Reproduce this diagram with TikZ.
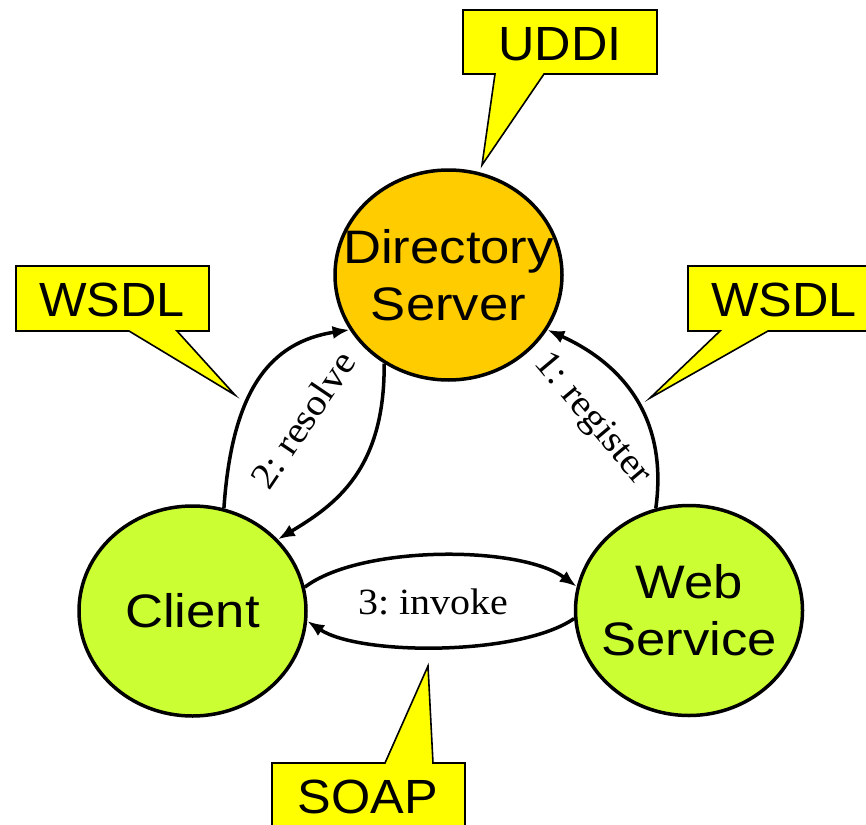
\documentclass[tikz,border=0pt]{standalone}
\usepackage{fontspec}
\newfontfamily\circfont[FakeStretch=1.12]{Liberation Sans}
\newfontfamily\callfont[FakeStretch=1.05]{Liberation Sans}
\newfontfamily\lblfont[FakeStretch=1.08]{Liberation Serif}
\usetikzlibrary{shapes.geometric,arrows.meta}
\definecolor{dirfill}{HTML}{FFCC00}
\definecolor{greenfill}{HTML}{CCFF33}
\definecolor{callfill}{HTML}{FFFF00}
\tikzset{
  circnode/.style={ellipse, draw=black, line width=3.5pt, minimum width=227pt, minimum height=210pt, inner sep=0pt},
  circtext/.style={align=center, inner sep=0pt, font=\circfont\fontsize{47}{57}\selectfont},
  callshape/.style={fill=callfill, draw=black, line width=1.6pt, line join=miter},
  calltext/.style={font=\callfont\fontsize{48}{56}\selectfont, inner sep=0pt},
  conn/.style={line width=3.5pt, -{Latex[length=17pt,width=13pt]}},
  lbl/.style={font=\lblfont\fontsize{37}{40}\selectfont, inner sep=0pt}
}
\begin{document}
\frenchspacing
\begin{tikzpicture}[x=1pt,y=-1pt]
\useasboundingbox (0,0) rectangle (866,824);
\clip (0,0) rectangle (866,824);
\fill[white] (0,0) rectangle (866,824);

% callouts
\draw[callshape] (463,10) -- (657,10) -- (657,74) -- (544,74) -- (482,165) -- (495,74) -- (463,74) -- cycle;
\node[calltext] (uddi) at (560,44) {UDDI};
\draw[callshape] (16,266) -- (209,266) -- (209,331) -- (177,331) -- (235,395) -- (129,331) -- (16,331) -- cycle;
\node[calltext] (wsdlL) at (112,300) {WSDL};
\draw[callshape] (688,266) -- (881,266) -- (881,331) -- (768,331) -- (650,398) -- (720,331) -- (688,331) -- cycle;
\node[calltext] (wsdlR) at (784,300) {WSDL};
\draw[callshape] (272,763) -- (385,763) -- (428,666) -- (433,763) -- (465,763) -- (465,830) -- (272,830) -- cycle;
\node[calltext] (soap) at (368,797) {SOAP};

% circles
\node[circnode, fill=dirfill] (dir) at (448.5,275) {};
\node[circtext] (dirtext) at (dir) {Directory\\Server};
\node[circnode, fill=greenfill] (client) at (192.5,611) {};
\node[circtext] (clienttext) at (client) {Client};
\node[circnode, fill=greenfill] (ws) at (689,610.5) {};
\node[circtext] (wstext) at (ws) {Web\\Service};

% connectors
\draw[conn] (client.73.5) .. controls (232,390) and (270,342) .. (dir.209.2);
\draw[conn] (dir.234.2) .. controls (385,470) and (335,505) .. (client.40.8);
\draw[conn] (ws.108.2) .. controls (668,420) and (625,365) .. (dir.-29.8);
\draw[conn] (client.12) .. controls (360,545) and (520,545) .. (ws.168.1);
\draw[conn] (ws.184.8) .. controls (520,656) and (360,656) .. (client.-5.4);

% labels
\node[lbl, rotate=56] (lres) at (303,420) {2: resolve};
\node[lbl, rotate=-50] (lreg) at (592,420) {1: register};
\node[lbl] (linv) at (433,602) {3: invoke};
\end{tikzpicture}
\end{document}
